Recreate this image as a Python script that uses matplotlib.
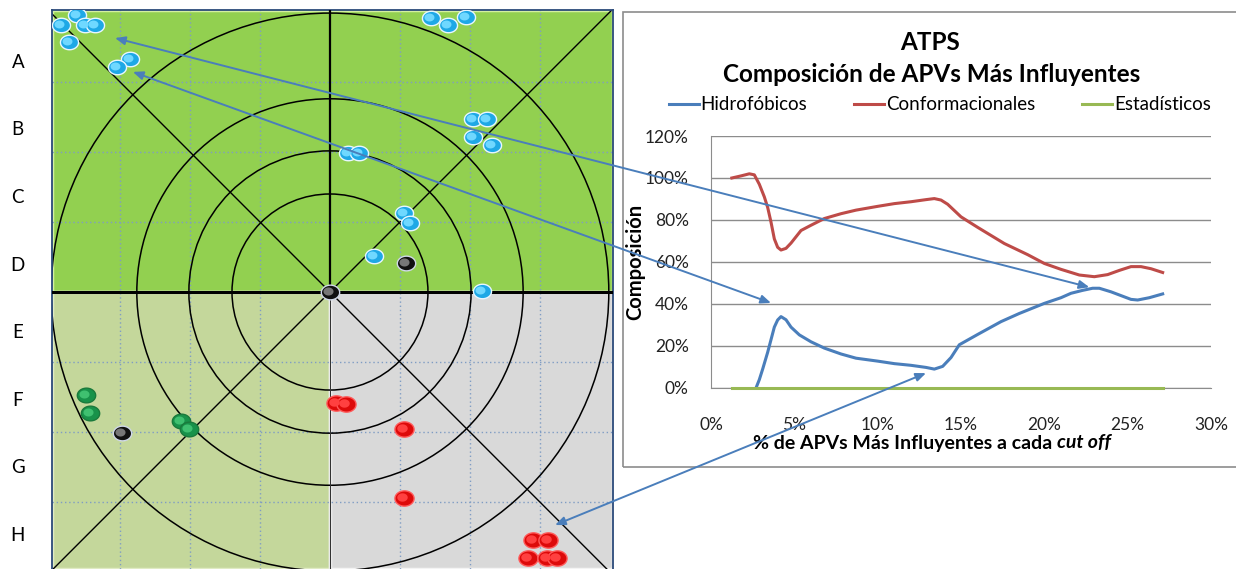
import matplotlib.pyplot as plt
import numpy as np
from matplotlib.patches import Rectangle, Circle, ConnectionPatch
from matplotlib.path import Path
from matplotlib.markers import MarkerStyle

plt.rcParams['font.family'] = ['Lato', 'DejaVu Sans']

# ---- mapa de APVs (centro = 0, radio exterior = 1) ----
filas = ['A', 'B', 'C', 'D', 'E', 'F', 'G', 'H']
filas_y = [0.821, 0.579, 0.339, 0.096, -0.143, -0.386, -0.625, -0.868]
radios = [0.35, 0.504, 0.69, 0.996]
rejilla = [-0.75, -0.5, -0.25, 0.25, 0.5, 0.75]

azul_x = [-0.904, -0.961, -0.875, -0.839, -0.932, -0.714, -0.761, 0.361, 0.421, 0.486,
          0.511, 0.561, 0.511, 0.579, 0.064, 0.104, 0.264, 0.286, 0.157, 0.543]
azul_y = [0.989, 0.954, 0.954, 0.954, 0.893, 0.832, 0.804, 0.979, 0.954, 0.982,
          0.618, 0.618, 0.554, 0.525, 0.496, 0.496, 0.282, 0.246, 0.129, 0.004]
negro_x = [0.271, 0.0, -0.743]
negro_y = [0.104, 0.0, -0.504]
verde_x = [-0.871, -0.857, -0.532, -0.504]
verde_y = [-0.368, -0.432, -0.461, -0.489]
rojo_x = [0.021, 0.057, 0.264, 0.264, 0.725, 0.779, 0.707, 0.775, 0.811]
rojo_y = [-0.396, -0.4, -0.489, -0.736, -0.886, -0.886, -0.95, -0.95, -0.95]

# ---- composicion de APVs por cut off ----
conf_x = [1.25, 1.8, 2.3, 2.6, 2.9, 3.2, 3.4, 3.6, 3.8, 4.0, 4.2, 4.5, 4.8, 5.4, 6.0, 6.8,
          7.8, 8.7, 10.0, 11.0, 12.0, 12.9, 13.4, 13.8, 14.2, 15.0, 16.0, 17.6, 19.0, 20.0,
          21.0, 22.1, 23.0, 23.8, 24.5, 25.2, 25.8, 26.4, 27.1]
conf_y = [100, 101, 102, 101.5, 97, 91, 86, 79, 71, 67, 65.7, 66.5, 69, 75, 77.5, 80.7,
          83, 84.7, 86.5, 87.8, 88.7, 89.7, 90.2, 89.5, 87.5, 81.5, 76.5, 68.8, 63.5, 59.3,
          56.5, 53.8, 53, 54, 56, 57.8, 57.8, 56.8, 55]
hidro_x = [2.7, 2.9, 3.1, 3.4, 3.6, 3.8, 4.0, 4.2, 4.5, 4.8, 5.3, 6.0, 6.8, 7.8, 8.7, 10.0,
           11.0, 12.0, 12.9, 13.4, 13.9, 14.4, 14.9, 16.0, 17.4, 18.5, 20.0, 21.0, 21.6,
           22.3, 22.9, 23.3, 24.0, 24.6, 25.2, 25.6, 26.3, 27.1]
hidro_y = [0, 4, 9, 17, 23, 29, 32.4, 34, 32.5, 29, 25.3, 22, 19, 16.2, 14.2, 12.8,
           11.6, 10.8, 9.8, 9.0, 10.3, 14.5, 20.6, 25.5, 31.6, 35.5, 40.3, 43, 45.1,
           46.5, 47.5, 47.5, 45.8, 44, 42.2, 41.9, 43, 44.8]
estad_x = [1.25, 5, 10, 15, 20, 25, 27.1]
estad_y = [0, 0, 0, 0, 0, 0, 0]
ticks_x = [0, 5, 10, 15, 20, 25, 30]
ticks_y = [0, 20, 40, 60, 80, 100, 120]

# flechas: punto del mapa -> punto del grafico
flecha_mapa = [(-0.768, 0.907), (-0.704, 0.786), (0.804, -0.832)]
flecha_graf = [(22.7, 48.0), (3.6, 40.5), (12.9, 7.1)]

fig = plt.figure(figsize=(12.36, 5.69), dpi=100)

# ---------------- mapa ----------------
ax = fig.add_axes([52 / 1236, 0.0, 561 / 1236, 559 / 569])
x0, x1, y0, y1 = -0.993, 1.011, -0.989, 1.007
ax.set_xlim(x0, x1)
ax.set_ylim(y0, y1)
ax.set_xticks([])
ax.set_yticks([])
for s in ['left', 'top', 'right']:
    ax.spines[s].set_color('#2b4a7a')
    ax.spines[s].set_linewidth(1.3)
ax.spines['bottom'].set_visible(False)

ax.add_patch(Rectangle((x0, 0), x1 - x0, y1, facecolor='#92d050', edgecolor='#d4f0a0', lw=2.5, zorder=0))
ax.add_patch(Rectangle((x0, y0), -x0, -y0, facecolor='#c4d79b', edgecolor='#e0ebc4', lw=2.5, zorder=0))
ax.add_patch(Rectangle((0, y0), x1, -y0, facecolor='#d9d9d9', edgecolor='#f4f4f4', lw=2.5, zorder=0))

for g in rejilla:
    ax.axvline(g, color='#7f9cc4', lw=1, ls=(0, (1, 2)), zorder=1)
    ax.axhline(g, color='#7f9cc4', lw=1, ls=(0, (1, 2)), zorder=1)

for r in radios:
    ax.add_patch(Circle((0, 0), r, fill=False, edgecolor='black', lw=1.1, zorder=2))
for sx, sy in [(-1, 1), (1, 1), (1, -1), (-1, -1)]:
    ax.plot([0, sx * 1.05], [0, sy * 1.05], color='black', lw=1.0, zorder=2)
ax.axhline(0, color='black', lw=2.2, zorder=3)
ax.plot([0, 0], [0, y1], color='black', lw=1.6, zorder=3)
ax.plot([0, 0], [y0, 0], color='#333333', lw=0.8, zorder=3)

t = np.linspace(0, 2 * np.pi, 60)
elipse = MarkerStyle(Path(np.column_stack([np.cos(t), 0.8 * np.sin(t)]), closed=True))


def esferas(xs, ys, base, brillo, borde, s=150):
    xs = np.array(xs)
    ys = np.array(ys)
    ax.scatter(xs, ys, s=s, marker=elipse, c=base, edgecolors=borde, linewidths=1.0, zorder=5)
    ax.scatter(xs - 0.006, ys + 0.004, s=s * 0.3, marker=elipse, c=brillo, linewidths=0, zorder=6)


esferas(azul_x, azul_y, '#1ea8e6', '#6fd8ff', '#e8f6ff', s=170)
esferas(negro_x, negro_y, '#111111', '#777777', '#d0d8e8', s=175)
esferas(verde_x, verde_y, '#18924a', '#3fc070', '#1a7a3c', s=175)
esferas(rojo_x, rojo_y, '#dd0a0a', '#ff4040', '#ff5a5a', s=190)

for f, fy in zip(filas, filas_y):
    ax.text(-1.115, fy, f, ha='center', va='center', fontsize=13.5, color='black', clip_on=False)

# ---------------- grafico ----------------
fig.add_artist(Rectangle((623 / 1236, 102 / 569), 0.6, 455 / 569, transform=fig.transFigure,
                         fill=False, edgecolor='#8c8c8c', lw=1.2))

gx = fig.add_axes([711 / 1236, 181 / 569, 500 / 1236, 252 / 569])
gx.plot(hidro_x, hidro_y, color='#4a7ebb', lw=2.2, label='Hidrofóbicos', zorder=4)
gx.plot(conf_x, conf_y, color='#be4b48', lw=2.2, label='Conformacionales', zorder=4)
gx.plot(estad_x, estad_y, color='#98b954', lw=2.2, label='Estadísticos', zorder=4, clip_on=False)
gx.set_xlim(0, 30)
gx.set_ylim(0, 120)
gx.set_xticks(ticks_x)
gx.set_xticklabels([f'{v}%' for v in ticks_x])
gx.set_yticks(ticks_y)
gx.set_yticklabels([f'{v}%' for v in ticks_y])
gx.tick_params(length=0, labelsize=12.5, colors='#222222')
gx.tick_params(axis='x', pad=21)
gx.tick_params(axis='y', pad=16)
gx.grid(axis='y', color='#8c8c8c', lw=1)
for s in ['top', 'right']:
    gx.spines[s].set_visible(False)
gx.spines['left'].set_color('#8c8c8c')
gx.spines['bottom'].set_color('#8c8c8c')
gx.set_ylabel('Composición', fontsize=14.5, fontweight='bold', labelpad=0)

# titulo del eje x: parte normal + "cut off" en cursiva
t1 = fig.text(0, 1 - 443 / 569, '% de APVs Más Influyentes a cada', ha='left', va='center',
              fontsize=14, fontweight='bold')
t2 = fig.text(0, 1 - 443 / 569, 'cut off', ha='left', va='center', fontsize=14,
              fontweight='bold', style='italic')
fig.canvas.draw()
ren = fig.canvas.get_renderer()
w1 = t1.get_window_extent(ren).width
w2 = t2.get_window_extent(ren).width
hueco = 5
inicio = 932 - (w1 + hueco + w2) / 2
t1.set_x(inicio / 1236)
t2.set_x((inicio + w1 + hueco) / 1236)

fig.text(930 / 1236, 1 - 43 / 569, 'ATPS', ha='center', va='center', fontsize=17.5, fontweight='bold')
fig.text(932 / 1236, 1 - 75 / 569, 'Composición de APVs Más Influyentes', ha='center', va='center',
         fontsize=17.5, fontweight='bold')
fig.legend(loc='center', bbox_to_anchor=(940 / 1236, 1 - 105 / 569), ncol=3, frameon=False,
           fontsize=13.5, handlelength=1.6, handletextpad=0.1, columnspacing=2.5)

# ---------------- flechas ----------------
for pa, pb in zip(flecha_mapa, flecha_graf):
    con = ConnectionPatch(xyA=pa, coordsA=ax.transData, xyB=pb, coordsB=gx.transData,
                          arrowstyle='<|-|>,head_length=0.6,head_width=0.25', color='#4a7ebb',
                          lw=1.4, zorder=10)
    fig.add_artist(con)

fig.savefig('out.png', dpi=100)
